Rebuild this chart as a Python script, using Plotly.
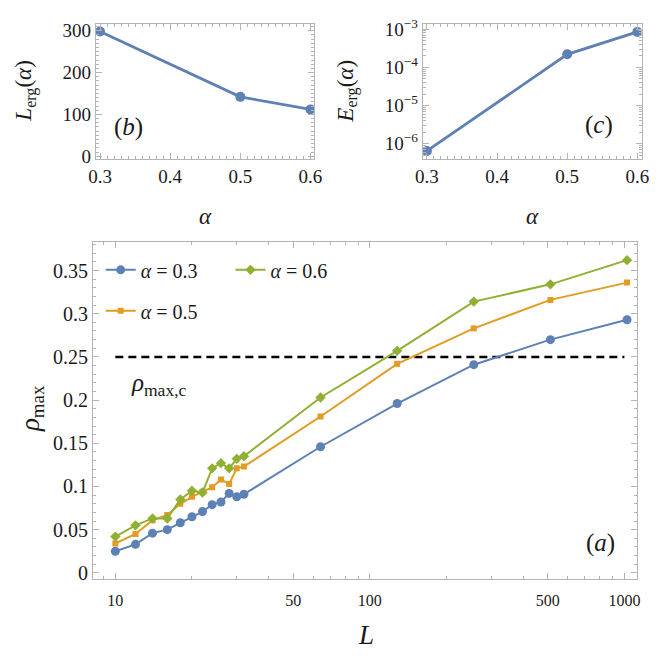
import plotly.graph_objects as go

# ---------------- data ----------------
alpha_vals = [0.3, 0.5, 0.6]
L_erg = [298, 142, 112]
E_erg = [6.5e-7, 2.2e-4, 8.5e-4]

L_sizes = [10, 12, 14, 16, 18, 20, 22, 24, 26, 28, 30, 32, 64, 128, 256, 512, 1024]
rho_03 = [0.025, 0.033, 0.046, 0.050, 0.058, 0.065, 0.071, 0.079, 0.082, 0.092, 0.088, 0.091,
          0.146, 0.196, 0.241, 0.270, 0.293]
rho_05 = [0.034, 0.045, 0.061, 0.067, 0.080, 0.088, 0.094, 0.099, 0.108, 0.103, 0.121, 0.123,
          0.181, 0.242, 0.283, 0.316, 0.336]
rho_06 = [0.042, 0.055, 0.063, 0.063, 0.085, 0.095, 0.093, 0.121, 0.127, 0.121, 0.132, 0.135,
          0.203, 0.257, 0.314, 0.334, 0.362]
rho_c = 0.25
rho_c_L = [10, 1000]

main_xticks = [10, 50, 100, 500, 1000]
main_xminor = [9, 20, 30, 40, 60, 70, 80, 90, 200, 300, 400, 600, 700, 800, 900]
main_yticks = [0, 0.05, 0.1, 0.15, 0.2, 0.25, 0.3, 0.35]
main_yticktext = ["0", "0.05", "0.1", "0.15", "0.2", "0.25", "0.3", "0.35"]
top_xticks = [0.3, 0.4, 0.5, 0.6]
b_yticks = [0, 100, 200, 300]
c_yticks = [1e-6, 1e-5, 1e-4, 1e-3]
c_yticktext = ["10<sup>−6</sup>", "10<sup>−5</sup>", "10<sup>−4</sup>", "10<sup>−3</sup>"]

BLUE = "#5E81B5"
ORANGE = "#E19C24"
GREEN = "#8FB032"
FRAME = "#b4b4b4"
FONT = "Liberation Serif"
TXT = "#1a1a1a"
W = H = 661


def px_x(p):
    return p / W


def px_y(p):
    return 1 - p / H


def axis(domain, anchor, rng, size, log=False, minor=None, **kw):
    d = dict(domain=domain, anchor=anchor, range=rng, showline=True, linecolor=FRAME,
             linewidth=1, mirror="ticks", ticks="inside", ticklen=6, tickcolor=FRAME,
             showgrid=False, zeroline=False,
             tickfont=dict(family=FONT, size=size, color=TXT))
    if log:
        d["type"] = "log"
    if minor is not None:
        d["minor"] = minor
    d.update(kw)
    return d


fig = go.Figure()

# ---- main panel (a) ----
fig.add_trace(go.Scatter(x=rho_c_L, y=[rho_c, rho_c], mode="lines", showlegend=False,
                         line=dict(color="black", width=2.5, dash="8px,5px"),
                         xaxis="x", yaxis="y", hoverinfo="skip"))
fig.add_trace(go.Scatter(x=L_sizes, y=rho_03, mode="lines+markers", name="<i>α</i> = 0.3",
                         line=dict(color=BLUE, width=2), marker=dict(symbol="circle", size=9, color=BLUE),
                         xaxis="x", yaxis="y", legend="legend", legendgroup="a03"))
fig.add_trace(go.Scatter(x=L_sizes, y=rho_05, mode="lines+markers", name="<i>α</i> = 0.5",
                         line=dict(color=ORANGE, width=2), marker=dict(symbol="square", size=6, color=ORANGE),
                         xaxis="x", yaxis="y", legend="legend", legendgroup="a05"))
fig.add_trace(go.Scatter(x=L_sizes, y=rho_06, mode="lines+markers", name="<i>α</i> = 0.6",
                         line=dict(color=GREEN, width=2), marker=dict(symbol="diamond", size=8, color=GREEN),
                         xaxis="x", yaxis="y", legend="legend2", legendgroup="a06"))

# ---- panel (b) ----
fig.add_trace(go.Scatter(x=alpha_vals, y=L_erg, mode="lines+markers", showlegend=False,
                         line=dict(color=BLUE, width=2.8), marker=dict(size=10, color=BLUE),
                         xaxis="x2", yaxis="y2"))
# ---- panel (c) ----
fig.add_trace(go.Scatter(x=alpha_vals, y=E_erg, mode="lines+markers", showlegend=False,
                         line=dict(color=BLUE, width=2.8), marker=dict(size=10, color=BLUE),
                         xaxis="x3", yaxis="y3"))

minor_style = dict(ticks="inside", ticklen=3, tickcolor=FRAME, showgrid=False)

fig.update_layout(
    width=W, height=H, margin=dict(l=0, r=0, t=0, b=0),
    paper_bgcolor="white", plot_bgcolor="white",
    font=dict(family=FONT, color=TXT),
    xaxis=axis([px_x(87), px_x(645)], "y", [0.9118, 3.051], 16, log=True,
               minor=dict(tickmode="array", tickvals=main_xminor, **minor_style),
               tickmode="array", tickvals=main_xticks, ticktext=[str(v) for v in main_xticks],
               ticklabelstandoff=7),
    yaxis=axis([px_y(584), px_y(239)], "x", [-0.0068, 0.3835], 20,
               minor=dict(dtick=0.01, **minor_style),
               tickmode="array", tickvals=main_yticks, ticktext=main_yticktext),
    xaxis2=axis([px_x(90), px_x(314)], "y2", [0.294, 0.6056], 19,
                minor=dict(dtick=0.01, **minor_style),
                tickmode="array", tickvals=top_xticks, ticktext=["0.3", "0.4", "0.5", "0.6"]),
    yaxis2=axis([px_y(155), px_y(16)], "x2", [-7.7, 317], 19,
                minor=dict(dtick=10, **minor_style),
                tickmode="array", tickvals=b_yticks, ticktext=[str(v) for v in b_yticks]),
    xaxis3=axis([px_x(425), px_x(649.3)], "y3", [0.294, 0.606], 19,
                minor=dict(dtick=0.01, **minor_style),
                tickmode="array", tickvals=top_xticks, ticktext=["0.3", "0.4", "0.5", "0.6"]),
    yaxis3=axis([px_y(155), px_y(16)], "x3", [-6.41, -2.854], 19, log=True,
                minor=dict(tickmode="array",
                           tickvals=[m * 10 ** e for e in (-7, -6, -5, -4, -3) for m in range(2, 10)],
                           **minor_style),
                tickmode="array", tickvals=c_yticks, ticktext=c_yticktext),
    legend=dict(x=px_x(95), y=px_y(248), xanchor="left", yanchor="top",
                bgcolor="rgba(0,0,0,0)", font=dict(family=FONT, size=20, color=TXT),
                itemwidth=30, tracegroupgap=12, orientation="v"),
    legend2=dict(x=px_x(228), y=px_y(248), xanchor="left", yanchor="top",
                 bgcolor="rgba(0,0,0,0)", font=dict(family=FONT, size=20, color=TXT),
                 itemwidth=30, orientation="v"),
)

ann = [
    ("<i>ρ</i><sub>max</sub>", 24, 410, 27, -90),
    ("<i>L</i>", 367, 642, 27, 0),
    ("<i>α</i>", 202, 213, 23, 0),
    ("<i>α</i>", 537, 213, 23, 0),
    ("<i>L</i><sub>erg</sub>(<i>α</i>)", 18, 85, 23, -90),
    ("<i>E</i><sub>erg</sub>(<i>α</i>)", 347, 85, 23, -90),
    ("(<i>b</i>)", 124, 122, 25, 0),
    ("(<i>c</i>)", 606, 120, 25, 0),
    ("(<i>a</i>)", 607, 547, 25, 0),
    ("<i>ρ</i><sub>max,c</sub>", 155, 385, 25, 0),
]
for text, x, y, size, ang in ann:
    fig.add_annotation(text=text, x=px_x(x), y=px_y(y), xref="paper", yref="paper",
                       showarrow=False, textangle=ang, xanchor="center", yanchor="middle",
                       font=dict(family=FONT, size=size, color=TXT))

fig.write_html("out.html")
